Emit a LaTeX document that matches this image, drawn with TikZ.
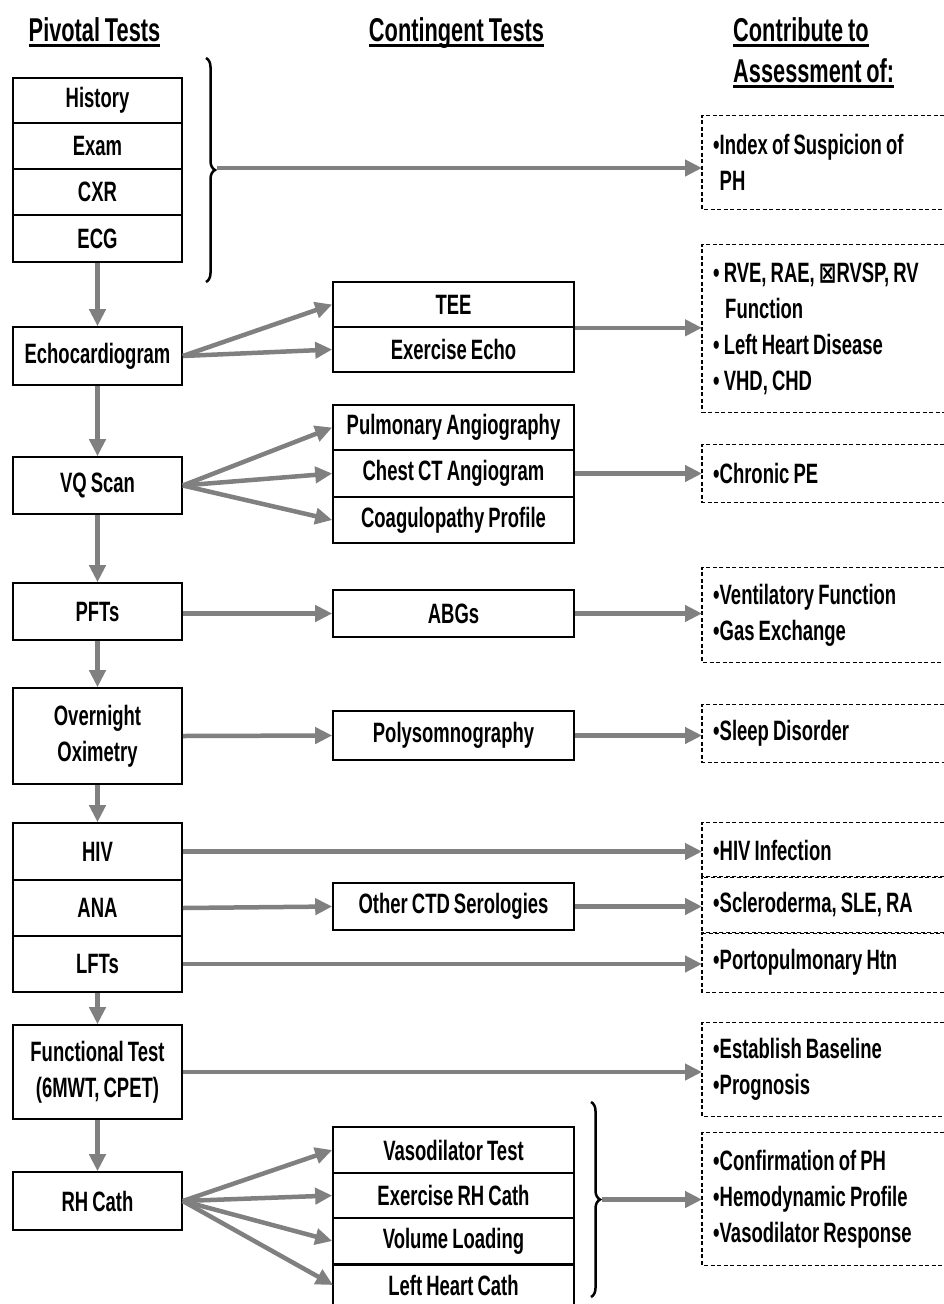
\documentclass[tikz,border=0pt]{standalone}
\usepackage{fontspec}
\setmainfont{Liberation Sans}[FakeStretch=0.66, WordSpace=0.8]
\newfontfamily\symf{DejaVu Sans}[FakeStretch=0.75]
\usetikzlibrary{arrows.meta,decorations.pathreplacing,calc}
\definecolor{arrowgray}{RGB}{128,128,128}
\newcommand\rtext[1]{\begin{minipage}{220pt}\raggedright #1\end{minipage}}
\begin{document}
\begin{tikzpicture}[x=1pt,y=-1pt,
  box/.style={draw=black, line width=1.6pt, fill=white, inner sep=0pt, align=center, font=\bfseries\fontsize{28}{36}\selectfont},
  piv/.style={box, minimum width=169pt},
  con/.style={box, minimum width=241pt},
  res/.style={anchor=west, inner xsep=11pt, inner ysep=0pt, font=\bfseries\fontsize{28}{36}\selectfont},
  dsh/.style={draw=black, line width=1.3pt, dash pattern=on 4pt off 2.5pt},
  arr/.style={draw=arrowgray, line width=4.5pt, -{Triangle[length=17pt,width=16pt]}},
  hdr/.style={inner sep=0pt, font=\bfseries\fontsize{33}{40}\selectfont},
  uline/.style={draw=black, line width=2.8pt},
  brc/.style={draw=black, line width=2.5pt, decorate, decoration={brace, amplitude=9pt}}
]
\fill[white] (0,0) rectangle (944,1304);
\useasboundingbox (0,0) rectangle (944,1304);

% headers
\node[hdr, anchor=base] (h1) at (94.5,41) {Pivotal Tests};
\node[hdr, anchor=base] (h2) at (456.5,41) {Contingent Tests};
\node[hdr, anchor=base west] (h3) at (733,41) {Contribute to};
\node[hdr, anchor=base west] (h4) at (733,82) {Assessment of:};
\foreach \h in {h1,h2,h3,h4}
  \draw[uline] ([yshift=-4.5pt]\h.base west) -- ([yshift=-4.5pt]\h.base east);

% pivotal tests
\node[piv, minimum height=45pt] (hist) at (97.5,100.5) {History};
\node[piv, minimum height=46pt] (exam) at (97.5,146) {Exam};
\node[piv, minimum height=46pt] (cxr) at (97.5,192) {CXR};
\node[piv, minimum height=47pt] (ecg) at (97.5,238.5) {ECG};
\node[piv, minimum height=58pt] (echo) at (97.5,356) {Echocardiogram};
\node[piv, minimum height=57pt] (vq) at (97.5,485.5) {VQ Scan};
\node[piv, minimum height=57pt] (pft) at (97.5,611.5) {PFTs};
\node[piv, minimum height=96pt] (oxi) at (97.5,736) {Overnight\\Oximetry};
\node[piv, minimum height=57pt] (hiv) at (97.5,851.5) {HIV};
\node[piv, minimum height=56pt] (ana) at (97.5,908) {ANA};
\node[piv, minimum height=56pt] (lft) at (97.5,964) {LFTs};
\node[piv, minimum height=94pt] (func) at (97.5,1072) {Functional Test\\(6MWT, CPET)};
\node[piv, minimum height=58pt] (rhc) at (97.5,1201) {RH Cath};

% contingent tests
\node[con, minimum height=45pt] (tee) at (453.5,304.5) {TEE};
\node[con, minimum height=45pt] (exe) at (453.5,349.5) {Exercise Echo};
\node[con, minimum height=45pt] (pa) at (453.5,427.5) {Pulmonary Angiography};
\node[con, minimum height=47pt] (ct) at (453.5,473.5) {Chest CT Angiogram};
\node[con, minimum height=46pt] (coag) at (453.5,520) {Coagulopathy Profile};
\node[con, minimum height=47pt] (abg) at (453.5,613.5) {ABGs};
\node[con, minimum height=49pt] (poly) at (453.5,735.5) {Polysomnography};
\node[con, minimum height=47pt] (ctd) at (453.5,906.5) {Other CTD Serologies};
\node[con, minimum height=46pt] (vaso) at (453.5,1150) {Vasodilator Test};
\node[con, minimum height=45pt] (exrh) at (453.5,1195.5) {Exercise RH Cath};
\node[con, minimum height=46pt] (vol) at (453.5,1241) {Volume Loading};
\node[con, draw=none, outer sep=0pt, minimum height=40pt] (lhc) at (453.5,1285) {Left Heart Cath};
\draw[line width=1.6pt] (lhc.south west) -- (lhc.north west) -- (lhc.north east) -- (lhc.south east);

% assessment boxes
\node[res, minimum height=93pt] (d1) at (702,162.5) {\rtext{•Index of Suspicion of\\\hspace*{6.5pt}PH}};
\node[res, minimum height=167pt] (d2) at (702,328.5) {\rtext{• RVE, RAE, {\symf\bfseries ⊠}RVSP, RV\\\hspace*{12pt}Function\\• Left Heart Disease\\• VHD, CHD}};
\node[res, minimum height=57pt] (d3) at (702,473.5) {\rtext{•Chronic PE}};
\node[res, minimum height=94pt] (d4) at (702,615) {\rtext{•Ventilatory Function\\•Gas Exchange}};
\node[res, minimum height=57pt] (d5) at (702,733.5) {\rtext{•Sleep Disorder}};
\node[res, minimum height=54pt] (d6) at (702,850) {\rtext{•HIV Infection}};
\node[res, minimum height=56pt] (d7) at (702,905) {\rtext{•Scleroderma, SLE, RA}};
\node[res, minimum height=59pt] (d8) at (702,962.5) {\rtext{•Portopulmonary Htn}};
\node[res, minimum height=93pt] (d9) at (702,1069.5) {\rtext{•Establish Baseline\\•Prognosis}};
\node[res, minimum height=132pt] (d10) at (702,1199) {\rtext{•Confirmation of PH\\•Hemodynamic Profile\\•Vasodilator Response}};
\foreach \d in {d1,d2,d3,d4,d5,d6,d7,d8,d9,d10}
  \draw[dsh] (\d.north east) -- (\d.north west) -- (\d.south west) -- (\d.south east);

% braces
\coordinate (b1top) at (206,58);
\coordinate (b1bot) at (206,282);
\coordinate (b1tip) at (217,168);
\draw[brc] (b1top) -- (b1bot);
\coordinate (b2top) at (591,1102);
\coordinate (b2bot) at (591,1297);
\coordinate (b2tip) at (602,1199.5);
\draw[brc] (b2top) -- (b2bot);

% vertical arrows
\draw[arr] (ecg.south) -- (echo.north);
\draw[arr] (echo.south) -- (vq.north);
\draw[arr] (vq.south) -- (pft.north);
\draw[arr] (pft.south) -- (oxi.north);
\draw[arr] (oxi.south) -- (hiv.north);
\draw[arr] (lft.south) -- (func.north);
\draw[arr] (func.south) -- (rhc.north);

% fan-out arrows
\draw[arr] (echo.east) -- (tee.west);
\draw[arr] (echo.east) -- (exe.west);
\draw[arr] (vq.east) -- (pa.west);
\draw[arr] (vq.east) -- (ct.west);
\draw[arr] (vq.east) -- (coag.west);
\draw[arr] (pft.east |- abg.west) -- (abg.west);
\draw[arr] (oxi.east) -- (poly.west);
\draw[arr] (ana.east) -- (ctd.west);
\draw[arr] (rhc.east) -- (vaso.west);
\draw[arr] (rhc.east) -- (exrh.west);
\draw[arr] (rhc.east) -- (vol.west);
\draw[arr] (rhc.east) -- (lhc.west);

% arrows to assessments
\draw[arr] (b1tip) -- (b1tip -| d1.west);
\draw[arr] (tee.south east) -- (tee.south east -| d2.west);
\draw[arr] (ct.east) -- (ct.east -| d3.west);
\draw[arr] (abg.east) -- (abg.east -| d4.west);
\draw[arr] (poly.east) -- (poly.east -| d5.west);
\draw[arr] (hiv.east) -- (hiv.east -| d6.west);
\draw[arr] (ctd.east) -- (ctd.east -| d7.west);
\draw[arr] (lft.east) -- (lft.east -| d8.west);
\draw[arr] (func.east) -- (func.east -| d9.west);
\draw[arr] (b2tip) -- (b2tip -| d10.west);
\end{tikzpicture}
\end{document}
